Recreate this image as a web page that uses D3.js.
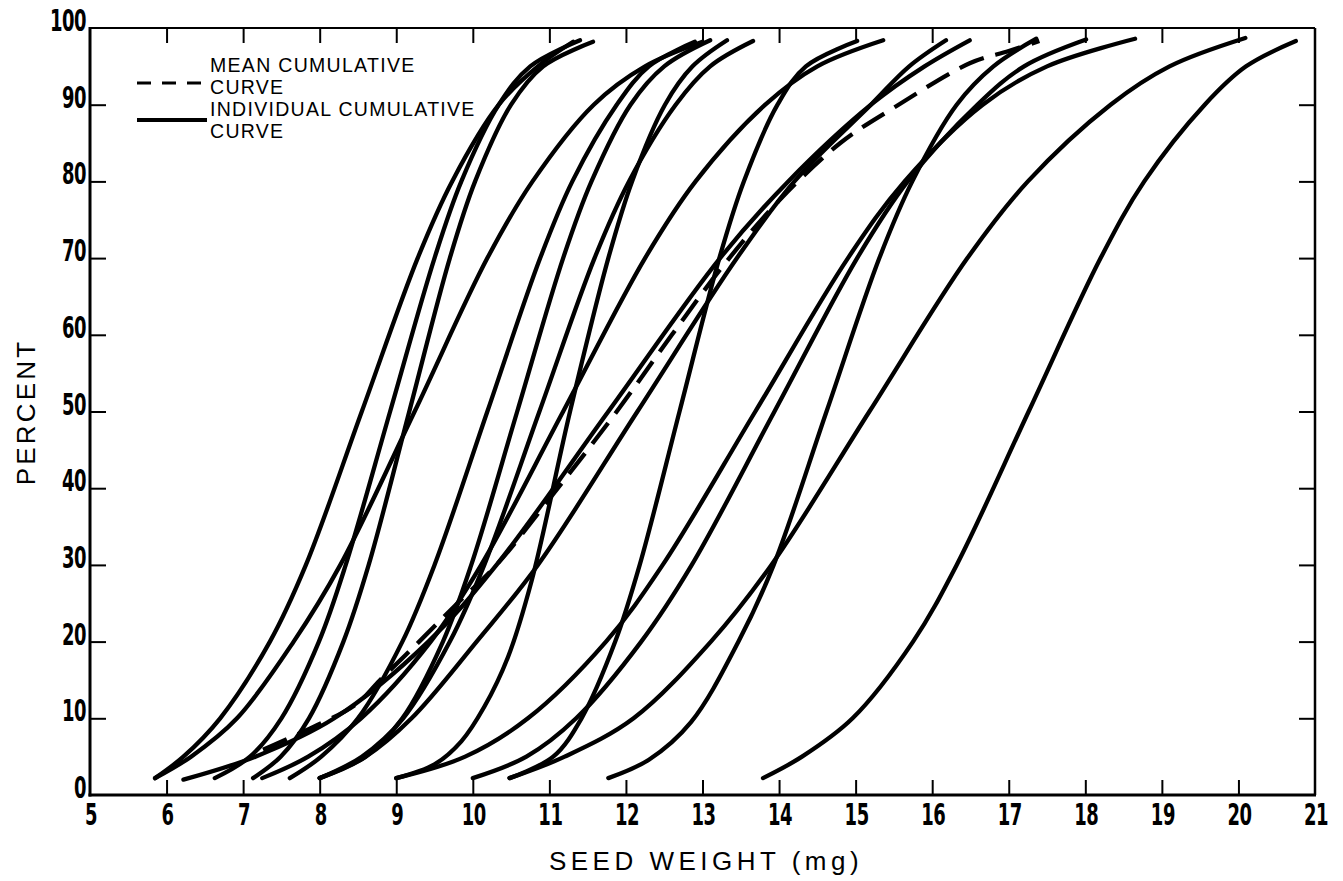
<!DOCTYPE html>
<html>
<head>
<meta charset="utf-8">
<script src="https://cdn.jsdelivr.net/npm/d3@7/dist/d3.min.js"></script>
<style>
  body { margin: 0; background: #fff; }
  svg { display: block; }
</style>
</head>
<body>
<svg id="chart" width="1343" height="881"></svg>
<script>
// ---------- data ----------
const xTickValues = [5, 6, 7, 8, 9, 10, 11, 12, 13, 14, 15, 16, 17, 18, 19, 20, 21];
const yTickValues = [0, 10, 20, 30, 40, 50, 60, 70, 80, 90, 100];
const xTitle = "SEED WEIGHT (mg)";
const yTitle = "PERCENT";
const legendLabels = [["MEAN CUMULATIVE", "CURVE"], ["INDIVIDUAL CUMULATIVE", "CURVE"]];

// individual cumulative curves: [seed weight mg, cumulative percent]
const curveA = [[5.85,2.2],[6.22,5],[6.70,10],[7.35,20],[7.82,30],[8.55,50],[9.28,70],[9.73,80],[10.34,90],[10.85,95],[11.31,98.2]];
const curveB = [[6.63,2.2],[7.09,5],[7.50,10],[7.99,20],[8.34,30],[8.92,50],[9.50,70],[9.85,80],[10.34,90],[10.75,95],[11.40,98.4]];
const curveC = [[7.13,2.2],[7.49,5],[7.86,10],[8.31,20],[8.64,30],[9.17,50],[9.70,70],[10.03,80],[10.50,90],[10.92,95],[11.57,98.2]];
const curveD = [[5.85,2.2],[6.32,5],[6.92,10],[7.66,20],[8.27,30],[9.24,50],[10.19,70],[10.78,80],[11.58,90],[12.25,95],[13.0,98.2]];
const curveE = [[7.61,2.2],[8.02,5],[8.50,10],[9.08,20],[9.50,30],[10.19,50],[10.88,70],[11.30,80],[11.88,90],[12.30,95],[12.90,98.2]];
const curveF = [[8.0,2.2],[8.60,5],[9.08,10],[9.61,20],[9.98,30],[10.58,50],[11.18,70],[11.55,80],[12.06,90],[12.50,95],[13.10,98.4]];
const curveG = [[8.0,2.2],[8.55,5],[9.09,10],[9.70,20],[10.15,30],[10.87,50],[11.59,70],[12.04,80],[12.65,90],[13.10,95],[13.66,98.3]];
const curveL = [[9.0,2.2],[9.50,4],[9.85,7],[10.15,11.5],[10.46,18],[10.77,28],[11.27,50],[11.77,70],[12.08,80],[12.51,90],[12.87,95],[13.32,98.4]];
const curveM = [[7.25,2.2],[7.85,5],[8.54,10],[9.45,20],[10.11,30],[11.18,50],[12.25,70],[12.91,80],[13.82,90],[14.50,95],[15.36,98.4]];
const curveN = [[6.22,2.0],[7.16,5],[8.19,10],[9.42,20],[10.31,30],[11.77,50],[13.23,70],[14.12,80],[15.20,90],[15.90,95],[16.49,98.4]];
const curveO = [[8.0,2.2],[8.60,5],[9.20,10],[10.05,20],[10.85,30],[12.15,50],[13.45,70],[14.20,80],[15.20,90],[15.70,95],[16.18,98.4]];
const curveP = [[10.48,2.2],[11.05,5],[11.42,10],[11.86,20],[12.18,30],[12.70,50],[13.22,70],[13.54,80],[13.98,90],[14.35,95],[15.02,98.3]];
const curveQ = [[9.0,2.2],[9.90,5],[10.72,10],[11.74,20],[12.48,30],[13.69,50],[14.90,70],[15.64,80],[16.66,90],[17.50,95],[18.65,98.6]];
const curveR = [[10.0,2.2],[10.70,5],[11.35,10],[12.20,20],[12.86,30],[13.94,50],[15.02,70],[15.68,80],[16.59,90],[17.20,95],[18.01,98.5]];
const curveS = [[11.77,2.2],[12.30,4.6],[12.85,9.5],[13.47,20],[13.93,30],[14.62,50],[15.31,70],[15.74,80],[16.32,90],[16.80,95],[17.36,98.6]];
const curveT = [[10.48,2.2],[11.20,5],[12.10,10],[13.11,20],[13.90,30],[15.18,50],[16.46,70],[17.25,80],[18.33,90],[19.10,95],[20.09,98.7]];
const curveU = [[13.79,2.2],[14.30,5],[14.96,10],[15.75,20],[16.32,30],[17.26,50],[18.20,70],[18.77,80],[19.56,90],[20.10,95],[20.75,98.3]];
const individualCurves = [curveA, curveB, curveC, curveD, curveE, curveF, curveG, curveL, curveM,
                          curveN, curveO, curveP, curveQ, curveR, curveS, curveT, curveU];

// mean cumulative curve (dashed)
const meanCurve = [[7.26,5.9],[7.75,8.1],[8.47,11.8],[8.79,15],[9.30,20],[9.80,25],[10.31,30],[11.0,38.6],[11.88,50],[12.60,60],[13.27,69],[14.0,77.5],[14.8,85],[15.53,89.8],[16.49,95.4],[17.0,97],[17.40,98.3]];

// ---------- layout ----------
const svg = d3.select("#chart");
const padLeft = 90, padRight = 1315, padTop = 28, padBottom = 795;
const x = d3.scaleLinear().domain([5, 21]).range([padLeft, padRight]);
const y = d3.scaleLinear().domain([0, 100]).range([padBottom, padTop]);

const innerX = xTickValues.filter(v => v > 5 && v < 21);
const innerY = yTickValues.filter(v => v > 0 && v < 100);

// tick marks (inward) via d3 axes
function styleTicks(g) {
  g.select(".domain").remove();
  g.selectAll(".tick line").attr("stroke", "#000").attr("stroke-width", 2);
  g.selectAll(".tick text").remove();
}
svg.append("g").attr("transform", `translate(0,${padBottom})`)
  .call(d3.axisBottom(x).tickValues(innerX).tickSize(-15).tickFormat(""))
  .call(styleTicks);
svg.append("g").attr("transform", `translate(0,${padTop})`)
  .call(d3.axisTop(x).tickValues(innerX).tickSize(-15).tickFormat(""))
  .call(styleTicks);
svg.append("g").attr("transform", `translate(${padLeft},0)`)
  .call(d3.axisLeft(y).tickValues(innerY).tickSize(-16).tickFormat(""))
  .call(styleTicks);
svg.append("g").attr("transform", `translate(${padRight},0)`)
  .call(d3.axisRight(y).tickValues(innerY).tickSize(-16).tickFormat(""))
  .call(styleTicks);

// frame
svg.append("line").attr("x1", padLeft).attr("x2", padRight).attr("y1", padTop).attr("y2", padTop)
  .attr("stroke", "#000").attr("stroke-width", 2);
svg.append("line").attr("x1", padRight).attr("x2", padRight).attr("y1", padTop).attr("y2", padBottom)
  .attr("stroke", "#000").attr("stroke-width", 2.5);
svg.append("line").attr("x1", padLeft).attr("x2", padLeft).attr("y1", padTop - 1).attr("y2", padBottom + 1.5)
  .attr("stroke", "#000").attr("stroke-width", 3);
svg.append("line").attr("x1", padLeft - 1.5).attr("x2", padRight + 1).attr("y1", padBottom).attr("y2", padBottom)
  .attr("stroke", "#000").attr("stroke-width", 3);

// tick labels (tall, condensed, bold)
const tickFont = "'DejaVu Sans Condensed','Liberation Sans Narrow',sans-serif";
svg.append("g").selectAll("text").data(yTickValues).join("text")
  .attr("transform", d => `translate(${padLeft - 4},${y(d) + 3}) scale(1,1.5)`)
  .attr("text-anchor", "end")
  .attr("font-family", tickFont).attr("font-weight", "bold").attr("font-size", 20)
  .attr("letter-spacing", -0.5)
  .text(d => d);
svg.append("g").selectAll("text").data(xTickValues).join("text")
  .attr("transform", d => `translate(${x(d) + 1},${padBottom + 30}) scale(1,1.5)`)
  .attr("text-anchor", "middle")
  .attr("font-family", tickFont).attr("font-weight", "bold").attr("font-size", 20)
  .attr("letter-spacing", -0.5)
  .text(d => d);

// axis titles
const titleFont = "'Liberation Sans',Arial,Helvetica,sans-serif";
svg.append("text").attr("x", 706).attr("y", 870)
  .attr("text-anchor", "middle").attr("font-family", titleFont).attr("font-size", 26)
  .attr("letter-spacing", 4.5).text(xTitle);
svg.append("text").attr("transform", "translate(35,412) rotate(-90)")
  .attr("text-anchor", "middle").attr("font-family", titleFont).attr("font-size", 26)
  .attr("letter-spacing", 3.2).text(yTitle);

// curves
const line = d3.line().x(d => x(d[0])).y(d => y(d[1])).curve(d3.curveCatmullRom.alpha(0.5));
svg.append("g").selectAll("path").data(individualCurves).join("path")
  .attr("d", line)
  .attr("fill", "none").attr("stroke", "#000").attr("stroke-width", 4.3)
  .attr("stroke-linecap", "round").attr("stroke-linejoin", "round");
svg.append("path").datum(meanCurve).attr("d", line)
  .attr("fill", "none").attr("stroke", "#000").attr("stroke-width", 4.3)
  .attr("stroke-dasharray", "26,12").attr("stroke-linecap", "butt");

// legend
const lg = svg.append("g");
lg.append("line").attr("x1", 137).attr("x2", 207).attr("y1", 83).attr("y2", 83)
  .attr("stroke", "#000").attr("stroke-width", 3).attr("stroke-dasharray", "14,11");
lg.append("line").attr("x1", 137).attr("x2", 207).attr("y1", 120).attr("y2", 120)
  .attr("stroke", "#000").attr("stroke-width", 4);
const legendLines = [legendLabels[0][0], legendLabels[0][1], legendLabels[1][0], legendLabels[1][1]];
const legendBase = [72, 94, 116, 138];
lg.selectAll("text").data(legendLines).join("text")
  .attr("x", 210).attr("y", (d, i) => legendBase[i])
  .attr("font-family", titleFont).attr("font-size", 19.5).attr("letter-spacing", 1.3)
  .text(d => d);
</script>
</body>
</html>
